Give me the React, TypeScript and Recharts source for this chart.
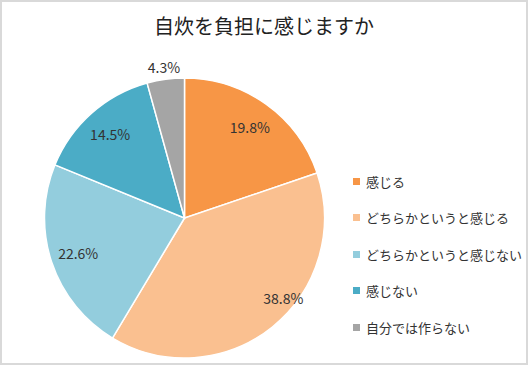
import React from "react";
import { PieChart, Pie, Cell, Legend } from "recharts";

const categories = ["感じる", "どちらかというと感じる", "どちらかというと感じない", "感じない", "自分では作らない"];
const values = [19.8, 38.8, 22.6, 14.5, 4.3];
const colors = ["#F79646", "#FAC090", "#93CDDD", "#4BACC6", "#A5A5A5"];

const data = categories.map((name, i) => ({ name, value: values[i] }));

const RAD = Math.PI / 180;

// excel "best fit"-like placement: small slices go outside, the big one sits lower
const renderLabel = (props: any) => {
  const { cx, cy, midAngle, outerRadius, value } = props;
  let r = outerRadius * 0.8;
  let a = midAngle;
  if (value < 6) r = outerRadius + 12;
  else if (value > 30) {
    r = outerRadius * 0.91;
    a = midAngle + 12;
  }
  const x = cx + r * Math.cos(-a * RAD);
  const y = cy + r * Math.sin(-a * RAD);
  return (
    <text x={x} y={y} textAnchor="middle" dominantBaseline="central" fontSize={14} fill="#333">
      {value.toFixed(1)}%
    </text>
  );
};

const renderLegend = () => (
  <div>
    {data.map((d, i) => (
      <div key={d.name} style={{ display: "flex", alignItems: "center", height: 36.5 }}>
        <span style={{ width: 7, height: 7, background: colors[i], marginRight: 6, display: "inline-block" }} />
        <span style={{ fontSize: 13, color: "#333" }}>{d.name}</span>
      </div>
    ))}
  </div>
);

export default function App() {
  return (
    <div
      style={{
        position: "absolute",
        left: 0,
        top: 0,
        width: 528,
        height: 365,
        boxSizing: "border-box",
        border: "2px solid #d9d9d9",
        background: "#fff",
        fontFamily: '"Noto Sans CJK JP", "Noto Sans", sans-serif',
      }}
    >
      <div
        style={{
          position: "absolute",
          top: 9,
          left: 0,
          width: "100%",
          textAlign: "center",
          fontSize: 20,
          color: "#222",
        }}
      >
        自炊を負担に感じますか
      </div>
      <PieChart
        width={524}
        height={361}
        margin={{ top: 0, right: 0, bottom: 0, left: 0 }}
        style={{ position: "absolute", left: 0, top: 0 }}
      >
        <Pie
          data={data}
          dataKey="value"
          nameKey="name"
          cx={182.5}
          cy={216}
          outerRadius={140}
          startAngle={90}
          endAngle={-270}
          stroke="#fff"
          strokeWidth={1.5}
          label={renderLabel}
          labelLine={false}
          isAnimationActive={false}
        >
          {data.map((d, i) => (
            <Cell key={d.name} fill={colors[i]} />
          ))}
        </Pie>
        <Legend
          content={renderLegend}
          wrapperStyle={{ left: 351, top: 161, width: 170 }}
        />
      </PieChart>
    </div>
  );
}
